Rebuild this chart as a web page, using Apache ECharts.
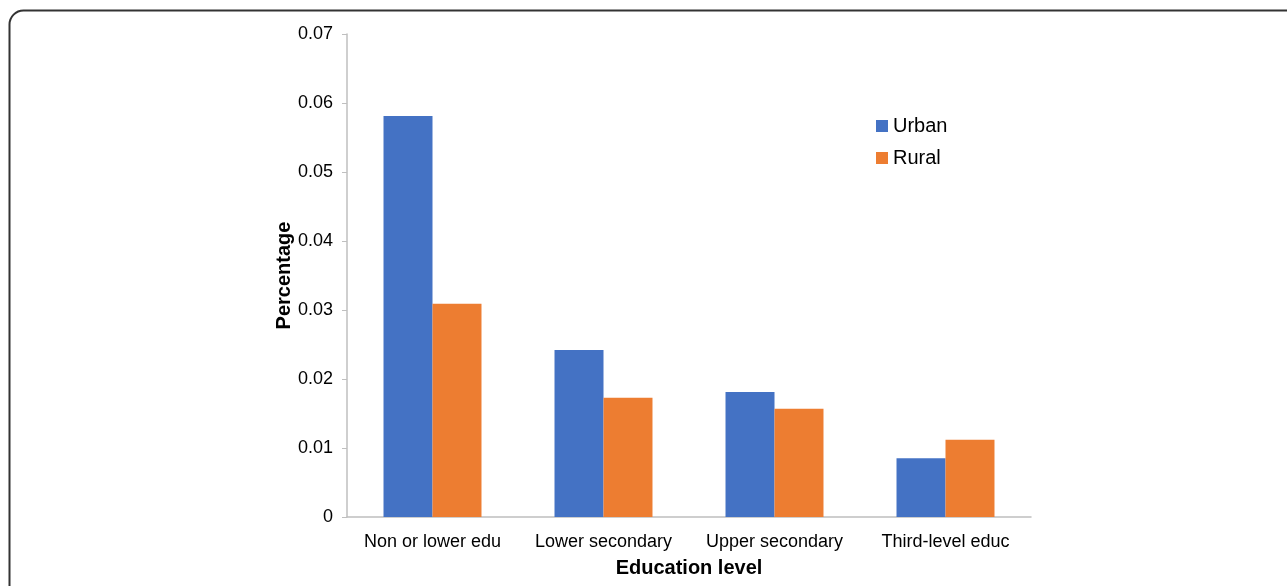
<!DOCTYPE html>
<html><head><meta charset="utf-8">
<script src="https://cdn.jsdelivr.net/npm/echarts@6/dist/echarts.min.js"></script>
<style>html,body{margin:0;padding:0;background:#fff;overflow:hidden}#c{width:1287px;height:586px}</style>
</head><body><div id="c"></div>
<script>
var categories = ['Non or lower edu', 'Lower secondary', 'Upper secondary', 'Third-level educ'];
var urban = [0.0581, 0.0242, 0.0181, 0.0085];
var rural = [0.0309, 0.0173, 0.0157, 0.0112];
var yTicks = [0, 0.01, 0.02, 0.03, 0.04, 0.05, 0.06, 0.07];

var font = 'Liberation Sans, Arial, Helvetica, sans-serif';
var chart = echarts.init(document.getElementById('c'), null, {renderer: 'canvas'});
chart.setOption({
  animation: false,
  textStyle: {fontFamily: font},
  graphic: [{
    type: 'rect', left: 7, top: 8, silent: true, z: -1,
    shape: {width: 1320, height: 620, r: 14},
    style: {fill: 'none', stroke: '#333', lineWidth: 2}
  }],
  grid: {left: 347, right: 256, top: 34, bottom: 69},
  legend: {
    orient: 'vertical', left: 876, top: 116, padding: 0,
    itemWidth: 12, itemHeight: 12, itemGap: 12, icon: 'rect',
    textStyle: {fontSize: 20, color: '#000', fontFamily: font, lineHeight: 20},
    data: ['Urban', 'Rural']
  },
  xAxis: {
    type: 'category', data: categories,
    name: 'Education level', nameLocation: 'middle', nameGap: 41, nameMoveOverlap: false,
    nameTextStyle: {fontSize: 20, fontWeight: 'bold', color: '#000', fontFamily: font},
    axisLine: {lineStyle: {color: '#bfbfbf', width: 1.5}},
    axisTick: {show: false},
    axisLabel: {fontSize: 18, color: '#000', margin: 16, fontFamily: font, interval: 0, hideOverlap: false}
  },
  yAxis: {
    type: 'value', min: 0, max: 0.07, interval: 0.01,
    name: 'Percentage', nameLocation: 'middle', nameGap: 53, nameRotate: 90, nameMoveOverlap: false,
    nameTextStyle: {fontSize: 20, fontWeight: 'bold', color: '#000', fontFamily: font},
    axisLine: {show: true, lineStyle: {color: '#bfbfbf', width: 1.5}},
    axisTick: {show: true, length: 5, lineStyle: {color: '#bfbfbf'}},
    splitLine: {show: false},
    axisLabel: {fontSize: 18, color: '#000', margin: 14, fontFamily: font,
      formatter: function (v) { return v === 0 ? '0' : v.toFixed(2); }}
  },
  series: [
    {name: 'Urban', type: 'bar', data: urban, barGap: '0%', barCategoryGap: '42.7%', itemStyle: {color: '#4472C4'}},
    {name: 'Rural', type: 'bar', data: rural, barGap: '0%', barCategoryGap: '42.7%', itemStyle: {color: '#ED7D31'}}
  ]
});
</script></body></html>
